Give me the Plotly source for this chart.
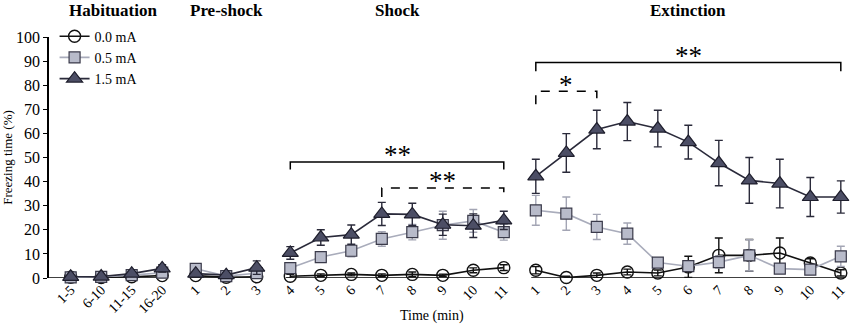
import plotly.graph_objects as go

# ---- data ----
groups = ["Habituation", "Pre-shock", "Shock", "Extinction"]
hab_labels = ["1-5", "6-10", "11-15", "16-20"]
pre_labels = ["1", "2", "3"]
shock_labels = ["4", "5", "6", "7", "8", "9", "10", "11"]
ext_labels = ["1", "2", "3", "4", "5", "6", "7", "8", "9", "10", "11"]

series_names = ["0.0 mA", "0.5 mA", "1.5 mA"]

mean_00 = [0.3, 0.2, 0.5, 1.0,
           1.0, 0.3, 0.5,
           0.7, 1.1, 1.5, 1.1, 1.5, 1.1, 3.2, 4.3,
           3.2, 0.2, 1.1, 2.5, 2.1, 4.6, 9.4, 9.4, 10.4, 6.2, 2.1]
sem_00 = [0.3, 0.3, 0.4, 0.6,
          0.5, 0.3, 1.0,
          0.8, 0.6, 0.6, 0.6, 1.0, 0.5, 1.0, 1.2,
          1.5, 0.5, 1.0, 1.2, 1.2, 4.4, 7.2, 6.6, 6.2, 1.8, 1.3]

mean_05 = [0.3, 0.5, 1.2, 2.2,
           3.8, 0.8, 2.0,
           4.1, 8.7, 11.3, 16.2, 19.0, 21.9, 23.7, 19.0,
           28.1, 26.7, 21.2, 18.4, 6.4, 4.9, 6.6, 9.4, 3.9, 3.5, 9.0]
sem_05 = [0.4, 0.5, 0.6, 1.0,
          1.0, 0.5, 1.5,
          1.5, 2.0, 2.5, 3.0, 3.2, 5.8, 4.7, 3.3,
          6.2, 6.9, 5.2, 4.4, 1.5, 1.5, 2.5, 6.5, 1.5, 1.5, 4.2]

mean_15 = [0.5, 0.6, 1.8, 4.0,
           1.8, 1.2, 4.3,
           10.4, 16.8, 18.0, 26.6, 26.4, 22.1, 21.7, 23.9,
           42.2, 51.9, 61.6, 64.9, 62.0, 56.4, 47.7, 40.5, 39.2, 33.6, 33.6]
sem_15 = [0.5, 0.5, 0.8, 1.5,
          0.8, 1.0, 2.8,
          2.6, 3.2, 4.0, 4.8, 4.6, 4.4, 4.9, 3.8,
          7.1, 8.0, 8.0, 7.9, 7.6, 7.0, 9.4, 9.5, 10.1, 8.1, 6.7]

# ---- layout of the broken x axis (group offsets) ----
group_sizes = [len(hab_labels), len(pre_labels), len(shock_labels), len(ext_labels)]
group_starts = [0.0, 4.1, 7.2, 15.25]
xpos = []
for start, n in zip(group_starts, group_sizes):
    xpos += [start + i for i in range(n)]
tick_text = hab_labels + pre_labels + shock_labels + ext_labels

FONT = "Liberation Serif, Times New Roman, serif"

fig = go.Figure()

styles = [
    dict(name=series_names[0], y=mean_00, e=sem_00,
         line=dict(color="#111111", width=1.6),
         marker=dict(symbol="circle-open", size=12, color="#111111", line=dict(width=1.4)),
         ecolor="#111111"),
    dict(name=series_names[1], y=mean_05, e=sem_05,
         line=dict(color="#a9acbb", width=1.6),
         marker=dict(symbol="square", size=11, color="#b8bbca", line=dict(color="#3a3a4a", width=1.2)),
         ecolor="#a3a5b4"),
    dict(name=series_names[2], y=mean_15, e=sem_15,
         line=dict(color="#2a2a3a", width=1.6),
         marker=dict(symbol="triangle-up", size=14, color="#4c4e65", line=dict(color="#1e1e2c", width=1.2)),
         ecolor="#2a2a3a"),
]

for s in styles:
    idx = 0
    for gi, n in enumerate(group_sizes):
        fig.add_trace(go.Scatter(
            x=xpos[idx:idx + n], y=s["y"][idx:idx + n],
            mode="lines+markers", name=s["name"], legendgroup=s["name"],
            showlegend=(gi == 0),
            line=s["line"], marker=s["marker"], cliponaxis=False,
            error_y=dict(type="data", array=s["e"][idx:idx + n], color=s["ecolor"],
                         thickness=1.4, width=4),
        ))
        idx += n

# broken baseline segments
idx = 0
for gi, n in enumerate(group_sizes):
    x0 = xpos[idx] - 0.15 if gi > 0 else -0.72
    x1 = xpos[idx + n - 1] + 0.15
    fig.add_shape(type="line", xref="x", yref="y", x0=x0, x1=x1, y0=0, y1=0,
                  line=dict(color="black", width=1.5), layer="below")
    idx += n

# group titles
idx = 0
for gi, n in enumerate(group_sizes):
    cx = (xpos[idx] + xpos[idx + n - 1]) / 2
    if gi == 0:
        cx -= 0.1
    fig.add_annotation(x=cx, y=1.108, xref="x", yref="paper", text="<b>%s</b>" % groups[gi],
                       showarrow=False, yanchor="middle",
                       font=dict(family=FONT, size=17, color="black"))
    idx += n

# significance brackets
def bracket(x0, x1, ytop, ydrop, dash, label, ylab):
    fig.add_shape(type="path", xref="x", yref="y",
                  path=f"M {x0},{ydrop} L {x0},{ytop} L {x1},{ytop} L {x1},{ydrop}",
                  line=dict(color="black", width=1.5, dash=dash))
    fig.add_annotation(x=(x0 + x1) / 2, y=ylab, xref="x", yref="y", text=label,
                       showarrow=False, font=dict(family=FONT, size=27, color="black"))

sh0 = group_starts[2]
ex0 = group_starts[3]
bracket(sh0, sh0 + 7, 48.1, 45.0, "solid", "**", 51.2)
bracket(sh0 + 3, sh0 + 7, 37.3, 33.6, "dash", "**", 40.2)
bracket(ex0, ex0 + 10, 89.4, 85.8, "solid", "**", 92.0)
bracket(ex0, ex0 + 2, 77.5, 72.1, "dash", "*", 80.0)

fig.add_annotation(x=0.4806, y=-0.158, xref="paper", yref="paper", text="Time (min)",
                   showarrow=False, yanchor="middle",
                   font=dict(family=FONT, size=14, color="black"))

fig.update_layout(
    width=850, height=324,
    margin=dict(l=49, r=4, t=37, b=46, autoexpand=False),
    plot_bgcolor="white", paper_bgcolor="white",
    font=dict(family=FONT, size=13, color="black"),
    showlegend=True,
    legend=dict(x=0.007, y=1.068, xanchor="left", yanchor="top",
                bgcolor="rgba(0,0,0,0)", font=dict(family=FONT, size=14),
                tracegroupgap=0, itemwidth=30),
    xaxis=dict(range=[-0.711, 25.42], tickmode="array", tickvals=xpos, ticktext=tick_text,
               tickangle=-45, showline=False, showgrid=False, zeroline=False, ticks="",
               automargin=False, tickfont=dict(family=FONT, size=14)),
    yaxis=dict(range=[0, 100], dtick=10, showline=True, linecolor="black", linewidth=1.5,
               ticks="outside", ticklen=4, tickwidth=1.3, tickcolor="black", automargin=False,
               showgrid=False, zeroline=False, tickfont=dict(family=FONT, size=16),
               title=dict(text="Freezing time (%)", font=dict(family=FONT, size=13), standoff=3)),
)

fig.write_html("out.html", config={"displayModeBar": False},
               post_script="document.body.style.margin='0';document.body.style.overflow='hidden';")
